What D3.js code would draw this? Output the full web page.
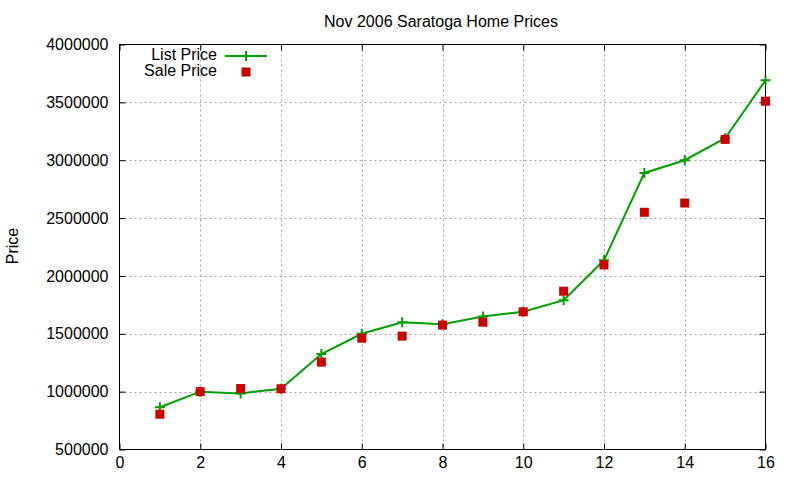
<!DOCTYPE html>
<html><head><meta charset="utf-8">
<script src="https://cdn.jsdelivr.net/npm/d3@7/dist/d3.min.js"></script>
<style>body{margin:0;background:#fff}svg text{font-family:"Liberation Sans",Arial,sans-serif;fill:#000}</style>
</head><body><svg id="c" width="800" height="480"></svg>
<script>
const xVals = [1,2,3,4,5,6,7,8,9,10,11,12,13,14,15,16];
const listPrice = [865000,1000000,985000,1025000,1325000,1500000,1600000,1582000,1650000,1690000,1790000,2135000,2890000,3000000,3190000,3690000];
const salePrice = [805000,1000000,1027000,1025000,1255000,1462000,1480000,1575000,1600000,1690000,1868000,2095000,2550000,2630000,3180000,3510000];
const xTicks = [0,2,4,6,8,10,12,14,16];
const yTicks = [500000,1000000,1500000,2000000,2500000,3000000,3500000,4000000];
const seriesNames = ["List Price","Sale Price"];

const svg = d3.select("#c");
const L=119.5, R=765.5, T=44.5, B=449.5;
const x = d3.scaleLinear().domain([0,16]).range([L,R]);
const y = d3.scaleLinear().domain([500000,4000000]).range([B,T]);
const green="#00a000", red="#cc0000", fs="16px";

// grid
const g = svg.append("g");
g.selectAll("line.gx").data(xTicks.slice(1,-1)).join("line")
 .attr("x1",d=>Math.round(x(d))+0.5).attr("x2",d=>Math.round(x(d))+0.5).attr("y1",T).attr("y2",B)
 .attr("stroke","#a0a0a0").attr("stroke-dasharray","2,3");
g.selectAll("line.gy").data(yTicks.slice(1,-1)).join("line")
 .attr("y1",d=>Math.round(y(d))+0.5).attr("y2",d=>Math.round(y(d))+0.5).attr("x1",L).attr("x2",R)
 .attr("stroke","#a0a0a0").attr("stroke-dasharray","2,3");

// axes
const ax = svg.append("g").attr("transform",`translate(0,${B})`)
 .call(d3.axisBottom(x).tickValues(xTicks).tickSize(-6).tickPadding(7).tickFormat(d3.format("d")));
const axT = svg.append("g").attr("transform",`translate(0,${T})`)
 .call(d3.axisTop(x).tickValues(xTicks).tickSize(-6).tickFormat(""));
const ay = svg.append("g").attr("transform",`translate(${L},0)`)
 .call(d3.axisLeft(y).tickValues(yTicks).tickSize(-6).tickPadding(11).tickFormat(d3.format("d")));
const ayR = svg.append("g").attr("transform",`translate(${R},0)`)
 .call(d3.axisRight(y).tickValues(yTicks).tickSize(-6).tickFormat(""));
[ax,axT,ay,ayR].forEach(a=>{a.select(".domain").remove();a.selectAll("line").attr("stroke","#000");
 a.selectAll("text").style("font-size",fs).style("font-family",'"Liberation Sans",Arial,sans-serif');});
svg.append("rect").attr("x",L).attr("y",T).attr("width",R-L).attr("height",B-T).attr("fill","none").attr("stroke","#000");

// list line
const line = d3.line().x((d,i)=>x(xVals[i])).y(d=>y(d));
svg.append("path").datum(listPrice).attr("d",line).attr("fill","none").attr("stroke",green).attr("stroke-width",2);
const plus = (sel)=>sel.append("path").attr("d","M-5,0H5M0,-5V5").attr("stroke",green).attr("stroke-width",2);
listPrice.forEach((v,i)=>plus(svg.append("g").attr("transform",`translate(${x(xVals[i])},${y(v)})`)));
svg.selectAll("rect.s").data(salePrice).join("rect").attr("class","s")
 .attr("x",(d,i)=>x(xVals[i])-4.5).attr("y",d=>y(d)-4.5).attr("width",9).attr("height",9).attr("fill",red);

// legend
svg.append("text").attr("x",217).attr("y",59.5).attr("text-anchor","end").style("font-size",fs).text(seriesNames[0]);
svg.append("text").attr("x",217).attr("y",75.5).attr("text-anchor","end").style("font-size",fs).text(seriesNames[1]);
svg.append("line").attr("x1",225).attr("x2",267).attr("y1",56).attr("y2",56).attr("stroke",green).attr("stroke-width",2);
plus(svg.append("g").attr("transform","translate(246,56)"));
svg.append("rect").attr("x",241.5).attr("y",67.5).attr("width",9).attr("height",9).attr("fill",red);

// title & label
svg.append("text").attr("x",441).attr("y",26.5).attr("text-anchor","middle").style("font-size","16px").text("Nov 2006 Saratoga Home Prices");
svg.append("text").attr("transform","translate(18,246) rotate(-90)").attr("text-anchor","middle").style("font-size",fs).text("Price");
</script></body></html>
